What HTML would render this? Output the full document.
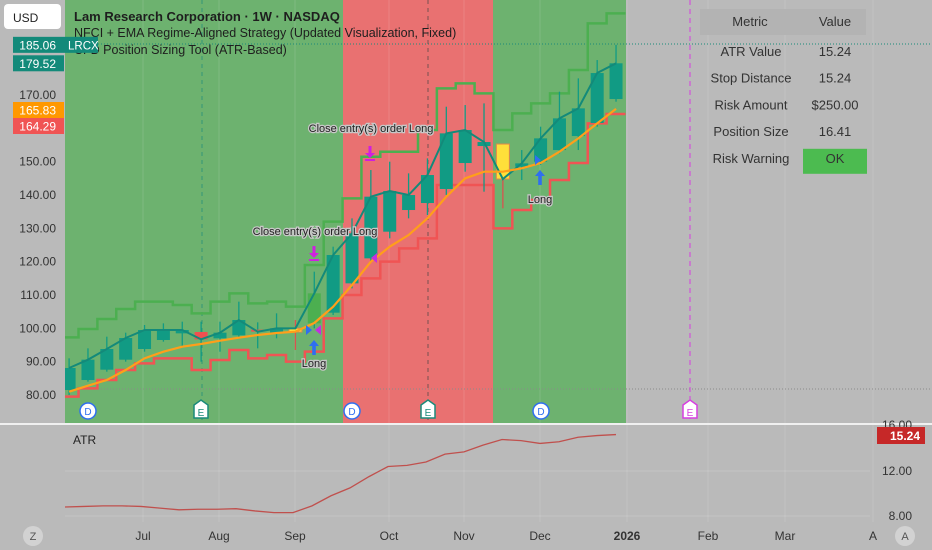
<!DOCTYPE html>
<html><head><meta charset="utf-8"><style>
html,body{margin:0;padding:0;background:#bababa;}
svg{display:block;font-family:"Liberation Sans",sans-serif;}
</style></head><body>
<svg id="c" width="932" height="550" viewBox="0 0 932 550">
<rect x="0" y="0" width="932" height="550" fill="#bababa"/>
<g id="bgs"></g>
<g id="grid"></g>
<clipPath id="plotClip"><rect x="65" y="0" width="870" height="423"/></clipPath>
<g id="plot" clip-path="url(#plotClip)"></g>
<g id="marks"></g>
<g id="axis"></g>
<g id="atr"></g>
</svg>
<script>
// ---- data ----
const openP  = [81.5,84.5,87.6,90.6,93.8,96.5,98.5,98.9,97,97.9,99.6,98.7,98.9,101.5,104.7,113.5,121,129,135.5,137.6,141.8,149.6,154.7,155.3,148.5,150,153.5,157.7,161.6,168.8];
const highP  = [91,94,97.5,98.7,101,101.5,102,102,102,108,101.8,104.5,102.5,117,124.5,133,147.5,150,146.5,151,166.5,167,167.5,155.3,153.5,160.5,171,175,180.5,185.06];
const lowP   = [80,84,87,90,93,96,94.5,90,93,97,94,97,93.5,100,104,112,120,127,133,134,140,147,141,136,144.5,149,152.5,153.5,160.5,168];
const closeP = [88.1,90.6,93.8,97.1,99.5,99.5,99.5,96.7,98.7,102.5,99,100,100,110.5,122,128.5,139.5,141.2,140,146,158.5,159.5,155.9,144.8,149.5,157,163,166,176.6,179.52];
const highlight = [0,0,0,0,0,0,0,0,0,0,0,0,1,2,0,0,0,0,0,0,0,0,0,1,0,0,0,0,0,0];
const emaP   = [81,82.8,84.5,87.5,91,93,94.5,95.3,96.3,97.2,98,98.6,99,101.6,106.5,113,120,124.5,128,133,139.5,145,147,147,148,149.6,153,157,161.5,165.83];
const upperBand = [97.3,99.8,102.8,105.8,108,108,107,104.5,108,110.5,107.5,108,106.5,119,132,139,151.5,153,153,159.5,172,173.5,170.5,159.5,164.5,167.5,170.5,177.5,191.5,194.5];
const lowerBand = [79.5,82,84.5,87.5,89.5,91,91,87.5,90.5,93.5,91,92,90,93,103,110,115,120,124,127,143,143,143,130,135.5,138.5,144.5,149.6,161.5,164.29];
const atrVals = [8.8,8.85,8.9,8.9,8.85,8.7,8.55,8.6,8.6,8.65,8.45,8.3,8.3,8.9,9.8,10.5,11.5,12.4,12.5,12.8,13.5,13.7,14.3,14.8,14.7,14.45,14.6,15.0,15.15,15.24];
const priceTicks = [170,150,140,130,120,110,100,90,80];
const atrTicks = [12,8];
const monthLabels = ["Jul","Aug","Sep","Oct","Nov","Dec","2026","Feb","Mar","A"];
const monthX = [143,219,295,389,464,540,627,708,785,873];
const tableRows = [["ATR Value","15.24"],["Stop Distance","15.24"],["Risk Amount","$250.00"],["Position Size","16.41"],["Risk Warning","OK"]];

// ---- scales ----
const X = i => 69.1 + 18.86*i;
const Y = p => 395 - (p-80)*3.333;
const YA = v => 471 - (v-12)*11.25;
const NS="http://www.w3.org/2000/svg";
function mk(parent,tag,attrs,text){const e=document.createElementNS(NS,tag);for(const k in attrs)e.setAttribute(k,attrs[k]);if(text!==undefined)e.textContent=text;parent.appendChild(e);return e;}
const bgs=document.getElementById('bgs'),grid=document.getElementById('grid'),plot=document.getElementById('plot'),marks=document.getElementById('marks'),axis=document.getElementById('axis'),atr=document.getElementById('atr');

let r=mk(bgs,'rect',{x:65,y:0,width:278,height:423,fill:'#6db26f'});


r=mk(bgs,'rect',{x:343,y:0,width:150,height:423,fill:'#e97171'});


r=mk(bgs,'rect',{x:493,y:0,width:133,height:423,fill:'#6db26f'});



monthX.forEach((mx,i)=>{const l=mk(grid,'line',{x1:mx,y1:0,x2:mx,y2:522,stroke:'#ffffff',"stroke-opacity":0.12});

});
let hl=mk(grid,'line',{x1:65,y1:44,x2:932,y2:44,stroke:'#1a8a7a',"stroke-dasharray":"1 2","stroke-width":1});


hl=mk(grid,'line',{x1:65,y1:389,x2:932,y2:389,stroke:'#8a8a8a',"stroke-dasharray":"1 2"});


[[202,'#1a8a7a'],[428,'#444444']].forEach(([vx,c])=>{const l=mk(grid,'line',{x1:vx,y1:0,x2:vx,y2:423,stroke:c,"stroke-dasharray":"4 4","stroke-opacity":0.7});

});
let ml=mk(grid,'line',{x1:690,y1:0,x2:690,y2:423,stroke:'#d63fe0',"stroke-dasharray":"5 4"});



function stepPath(arr){let d='';arr.forEach((v,i)=>{const x0=X(i)-9.43,x1=X(i)+9.43,y=Y(v);d+=(i?'L':'M')+x0+','+y+'L'+x1+','+y;});return d;}
let up=mk(plot,'path',{d:stepPath(upperBand),fill:'none',stroke:'#4caf50',"stroke-width":2.5});


let lo=mk(plot,'path',{d:stepPath(lowerBand),fill:'none',stroke:'#f05454',"stroke-width":2.5});



openP.forEach((o,i)=>{const c=closeP[i],x=X(i);
 let col = c>=o ? '#119b84' : '#f05050';
 if(highlight[i]===1) col='#ffe03a'; if(highlight[i]===2) col='#4caf50';
 const g=mk(plot,'g',{});
 
 
 mk(g,'line',{x1:x,y1:Y(highP[i]),x2:x,y2:Y(lowP[i]),stroke:highlight[i]===1?'#d9534f':'#119b84',"stroke-width":1.3});
 const t=Y(Math.max(o,c)),b=Y(Math.min(o,c));
 mk(g,'rect',{x:x-6.5,y:t,width:13,height:Math.max(2,b-t),fill:col,stroke:highlight[i]===1?'#e0874a':'none'});
});
let cl=mk(plot,'polyline',{points:closeP.map((c,i)=>X(i)+','+Y(c)).join(' '),fill:'none',stroke:'#138a7a',"stroke-width":2});


let em=mk(plot,'polyline',{points:emaP.map((c,i)=>X(i)+','+Y(c)).join(' '),fill:'none',stroke:'#ff9f1a',"stroke-width":2.2});



function txt(p,x,y,s,o){const t=mk(p,'text',Object.assign({x:x,y:y,"font-size":11,fill:'#222','text-anchor':'middle'},o||{}),s);return t;}
let t1=txt(marks,315,235,'Close entry(s) order Long',{stroke:'#c8c8c8','stroke-width':2.5,'paint-order':'stroke'});


let t2=txt(marks,371,132,'Close entry(s) order Long',{stroke:'#c8c8c8','stroke-width':2.5,'paint-order':'stroke'});


[[314,246],[370,146]].forEach(([ax,ay])=>{const a=mk(marks,'path',{d:`M${ax-1.5},${ay}h3v7h3.5l-5,5l-5,-5h3.5z M${ax-5},${ay+13}h10v2h-10z`,fill:'#d01fe0'});

});
[[314,340,367],[540,170,203]].forEach(([ax,ay,ly])=>{const a=mk(marks,'path',{d:`M${ax},${ay}l5,6h-3.2v9h-3.6v-9h-3.2z`,fill:'#2f6ff0'});


const l=txt(marks,ax,ly,'Long',{stroke:'#c8c8c8','stroke-width':2.5,'paint-order':'stroke'});

});
[[306,330,1,'#2f6ff0'],[321,330,-1,'#c42ee0'],[377,258,-1,'#c42ee0'],[535,160,1,'#2f6ff0']].forEach(([tx,ty,d,c])=>{const a=mk(marks,'path',{d:`M${tx},${ty-5}l${6*d},5l${-6*d},5z`,fill:c});

});

[88,352,541].forEach(dx=>{const g=mk(marks,'g',{});


mk(g,'circle',{cx:dx,cy:411,r:8,fill:'#fff',stroke:'#2f6ff0','stroke-width':1.5});
mk(g,'text',{x:dx,y:415,'font-size':10,fill:'#2f6ff0','text-anchor':'middle'},'D');});
[[201,'#1a8a7a'],[428,'#1a8a7a'],[690,'#d63fe0']].forEach(([ex,c])=>{const g=mk(marks,'g',{});


mk(g,'path',{d:`M${ex-7},${405}l7,-5l7,5v13h-14z`,fill:'#fff',stroke:c,'stroke-width':1.5});
mk(g,'text',{x:ex,y:416,'font-size':10,fill:c,'text-anchor':'middle'},'E');});

let tt=mk(axis,'text',{x:74,y:21,'font-size':13,'font-weight':'bold',fill:'#1e1e1e'},'Lam Research Corporation · 1W · NASDAQ');


let s1=mk(axis,'text',{x:74,y:37,'font-size':12.5,fill:'#1e1e1e'},'NFCI + EMA Regime-Aligned Strategy (Updated Visualization, Fixed)');


let s2=mk(axis,'text',{x:74,y:54,'font-size':12.5,fill:'#1e1e1e'},'CFD Position Sizing Tool (ATR-Based)');



let usd=mk(axis,'rect',{x:4,y:4,width:57,height:25,rx:4,fill:'#fff'});


mk(axis,'text',{x:13,y:22,'font-size':12,fill:'#222'},'USD');
priceTicks.forEach(p=>{const t=mk(axis,'text',{x:56,y:Y(p)+4,'font-size':12,fill:'#333','text-anchor':'end'},p.toFixed(2));

});
function tag(y,val,col,name){const g=mk(axis,'g',{});


mk(g,'rect',{x:13,y:y-8,width:51,height:16,fill:col});
mk(g,'text',{x:56,y:y+4.5,'font-size':12,fill:'#fff','text-anchor':'end'},val);}
tag(Y(185.06),'185.06','#138a7a','high-price-tag');
tag(Y(179.52),'179.52','#138a7a','last-price-tag');
// tags pushed apart to avoid overlap (as TradingView does)
tag(110,'165.83','#ff9800','ema-price-tag');
tag(126,'164.29','#f05454','lower-band-tag');
let lr=mk(axis,'rect',{x:64,y:Y(185.06)-8,width:34,height:16,fill:'#138a7a'});


mk(axis,'text',{x:68,y:Y(185.06)+4.5,'font-size':11.5,fill:'#fff'},'LRCX');

const tb=mk(axis,'g',{});


mk(tb,'rect',{x:700,y:9,width:166,height:26,fill:'#b3b3b3'});
mk(tb,'text',{x:750,y:26,'font-size':13,fill:'#333','text-anchor':'middle'},'Metric');
mk(tb,'text',{x:835,y:26,'font-size':13,fill:'#333','text-anchor':'middle'},'Value');
tableRows.forEach((row,i)=>{const y=52+i*26.7;
 if(row[1]==='OK') mk(tb,'rect',{x:803,y:y-10,width:64,height:25,fill:'#4cbb50'});
 mk(tb,'text',{x:751,y:y+4,'font-size':13,fill:'#333','text-anchor':'middle'},row[0]);
 mk(tb,'text',{x:835,y:y+4,'font-size':13,fill:'#333','text-anchor':'middle'},row[1]);});

let sep=mk(atr,'line',{x1:0,y1:424,x2:932,y2:424,stroke:'#f0f0f0','stroke-width':2});


atrTicks.forEach(v=>{const l=mk(atr,'line',{x1:65,y1:YA(v),x2:870,y2:YA(v),stroke:'#ffffff','stroke-opacity':0.15});


const t=mk(atr,'text',{x:912,y:YA(v)+4,'font-size':12,fill:'#333','text-anchor':'end'},v.toFixed(2));

});
mk(atr,'text',{x:912,y:429,'font-size':12,fill:'#333','text-anchor':'end'},'16.00');
let al=mk(atr,'polyline',{points:atrVals.map((v,i)=>(65+19*i)+','+YA(v)).join(' '),fill:'none',stroke:'#c0504d','stroke-width':1.3});


let atl=mk(atr,'text',{x:73,y:444,'font-size':12,fill:'#222'},'ATR');


let atg=mk(atr,'rect',{x:877,y:427,width:48,height:17,fill:'#c62828'});


mk(atr,'text',{x:920,y:440,'font-size':12,'font-weight':'bold',fill:'#fff','text-anchor':'end'},'15.24');

monthLabels.forEach((m,i)=>{const t=mk(atr,'text',{x:monthX[i],y:540,'font-size':12,fill:'#333','text-anchor':'middle','font-weight':m==='2026'?'bold':'normal'},m);

});
[[33,'Z','zoom-button'],[905,'A','auto-scale-button']].forEach(([cx,s,n])=>{const g=mk(atr,'g',{});


mk(g,'circle',{cx:cx,cy:536,r:10,fill:'#d2d2d2'});
mk(g,'text',{x:cx,y:540,'font-size':11,fill:'#555','text-anchor':'middle'},s);});
</script>
</body></html>
